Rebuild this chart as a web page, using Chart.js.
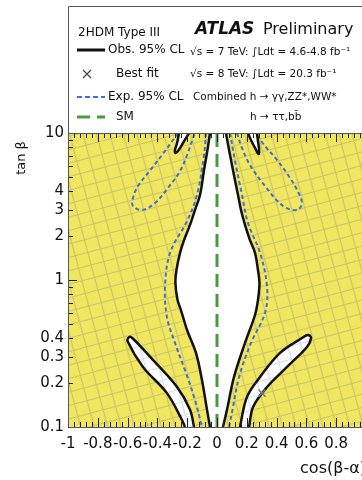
<!DOCTYPE html>
<html><head><meta charset="utf-8">
<script src="https://cdn.jsdelivr.net/npm/chart.js@4"></script>
<style>html,body{margin:0;padding:0;background:#fff;overflow:hidden;width:362px;height:480px}canvas{display:block}</style>
</head><body>
<canvas id="c" width="400" height="480"></canvas>
<script>
// ---- tick labels ----
const xTickLabels = [-1, -0.8, -0.6, -0.4, -0.2, 0, 0.2, 0.4, 0.6, 0.8, 1];
const yTickLabels = [0.1, 0.2, 0.3, 0.4, 1, 2, 3, 4, 10];

// ---- contours: [cos(beta-alpha), tan beta] ----
const obsCentralLeft = [[-0.047,10],[-0.064,7.66],[-0.087,5.6],[-0.114,3.79],[-0.148,2.99],[-0.181,2.37],[-0.221,1.87],[-0.248,1.53],[-0.272,1.17],[-0.279,0.955],[-0.265,0.731],[-0.242,0.625],[-0.201,0.457],[-0.141,0.319],[-0.101,0.209],[-0.067,0.131],[-0.047,0.1]];
const obsCentralRight = [[0.060,10],[0.081,7.66],[0.107,5.6],[0.141,3.79],[0.161,2.99],[0.188,2.37],[0.221,1.87],[0.255,1.53],[0.275,1.17],[0.285,0.955],[0.275,0.731],[0.255,0.578],[0.188,0.373],[0.114,0.219],[0.067,0.131],[0.040,0.1]];
const obsUpperLobeLeft = [[-0.255,10],[-0.268,8.55],[-0.282,7.66],[-0.279,7.31],[-0.262,7.54],[-0.228,8.55],[-0.188,10]];
const obsUpperLobeRight = [[0.208,10],[0.228,8.96],[0.255,7.91],[0.279,7.19],[0.282,7.79],[0.275,8.82],[0.268,10]];
const obsLowerLobeLeft = [[-0.215,0.1],[-0.235,0.1116],[-0.336,0.170],[-0.497,0.256],[-0.600,0.383],[-0.590,0.409],[-0.565,0.400],[-0.430,0.286],[-0.268,0.187],[-0.181,0.131],[-0.154,0.1]];
const obsLowerLobeRight = [[0.154,0.1],[0.201,0.160],[0.289,0.219],[0.423,0.319],[0.570,0.403],[0.611,0.423],[0.631,0.403],[0.604,0.350],[0.470,0.256],[0.336,0.187],[0.242,0.137],[0.215,0.1]];
const expCentralLeft = [[-0.074,10],[-0.087,7.08],[-0.134,3.79],[-0.201,2.52],[-0.315,1.53],[-0.349,0.896],[-0.336,0.560],[-0.289,0.391],[-0.208,0.233],[-0.148,0.153],[-0.101,0.1]];
const expCentralRight = [[0.087,10],[0.121,6.45],[0.168,3.79],[0.208,2.44],[0.289,1.53],[0.336,0.896],[0.322,0.597],[0.228,0.373],[0.148,0.219],[0.104,0.131],[0.081,0.1]];
const expWingLeft = [[-0.262,10],[-0.349,7.54],[-0.436,5.78],[-0.530,4.36],[-0.564,3.61],[-0.564,3.19],[-0.503,2.99],[-0.416,3.34],[-0.329,4.23],[-0.248,5.51],[-0.201,7.08],[-0.168,8.82],[-0.148,10]];
const expWingRight = [[0.134,10],[0.168,7.91],[0.221,6.06],[0.322,4.36],[0.443,3.19],[0.537,2.99],[0.570,3.34],[0.537,4.10],[0.477,5.18],[0.403,6.55],[0.322,8.16],[0.255,10]];
const smLine = [[0,0.1],[0,10]];
const bestFit = [[0.302,0.170]];

const legendLabels = ['Obs. 95% CL', 'Best fit', 'Exp. 95% CL', 'SM'];

const FONT = '"DejaVu Sans", sans-serif';
const BLACK = '#111', BLUE = '#3f6fd1', GREEN = '#4a9a3c';
const toXY = a => a.map(p => ({x: p[0], y: p[1]}));

function makeHatch(bg, line, size, angle) {
  const c = document.createElement('canvas');
  c.width = size; c.height = size;
  const g = c.getContext('2d');
  g.fillStyle = bg; g.fillRect(0, 0, size, size);
  g.strokeStyle = line; g.lineWidth = 1.2;
  g.beginPath();
  g.moveTo(0, size / 2); g.lineTo(size, size / 2);
  g.moveTo(size / 2, 0); g.lineTo(size / 2, size);
  g.stroke();
  const p = g.createPattern(c, 'repeat');
  p.setTransform(new DOMMatrix().rotate(angle));
  return p;
}
const hatchYellow = makeHatch('rgb(240,230,96)', 'rgba(120,120,125,0.3)', 13, -15);
const hatchWhite = makeHatch('#ffffff', 'rgba(150,165,215,0.4)', 13, -15);

const lineDs = (data, color, width, dash, order) => ({
  data: toXY(data), showLine: true, borderColor: color, borderWidth: width,
  borderDash: dash, pointRadius: 0, fill: false, tension: 0.35, order
});
const fillDs = (data, bg, order) => ({
  data: toXY(data), showLine: true, borderWidth: 0, borderColor: 'rgba(0,0,0,0)',
  backgroundColor: bg, pointRadius: 0, fill: 'shape', tension: 0.35, order
});

const datasets = [
  fillDs(obsCentralLeft.concat(obsCentralRight.slice().reverse()), '#ffffff', 10),
  fillDs(obsUpperLobeLeft, '#ffffff', 10),
  fillDs(obsUpperLobeRight, '#ffffff', 10),
  fillDs(obsLowerLobeLeft, hatchWhite, 10),
  fillDs(obsLowerLobeRight, hatchWhite, 10),
  lineDs(expCentralLeft, BLUE, 2, [4, 3], 6),
  lineDs(expCentralRight, BLUE, 2, [4, 3], 6),
  lineDs(expWingLeft, BLUE, 2, [4, 3], 6),
  lineDs(expWingRight, BLUE, 2, [4, 3], 6),
  lineDs(obsCentralLeft, BLACK, 2.5, [], 4),
  lineDs(obsCentralRight, BLACK, 2.5, [], 4),
  lineDs(obsUpperLobeLeft, BLACK, 2.5, [], 4),
  lineDs(obsUpperLobeRight, BLACK, 2.5, [], 4),
  lineDs(obsLowerLobeLeft, BLACK, 2.5, [], 4),
  lineDs(obsLowerLobeRight, BLACK, 2.5, [], 4),
  Object.assign(lineDs(smLine, GREEN, 3, [13, 7], 2), {tension: 0}),
  {data: toXY(bestFit), showLine: false, pointStyle: 'crossRot', pointRadius: 5,
   borderColor: '#777', borderWidth: 1.5, order: 1}
];

const decor = {
  id: 'decor',
  beforeDraw(chart) {
    const {ctx, chartArea: a} = chart;
    ctx.save();
    ctx.fillStyle = hatchYellow;
    ctx.fillRect(a.left, a.top, a.right - a.left, a.bottom - a.top);
    ctx.restore();
  },
  afterDatasetsDraw(chart) {
    const {ctx, chartArea: a, scales: {x: xs, y: ys}} = chart;
    ctx.save();
    ctx.strokeStyle = '#222'; ctx.lineWidth = 1;
    ctx.beginPath();
    for (let i = 0; i <= 50; i++) {
      const px = Math.round(xs.getPixelForValue(-1 + i * 0.04)) + 0.5;
      const L = i % 5 === 0 ? 9 : 5;
      ctx.moveTo(px, a.bottom); ctx.lineTo(px, a.bottom - L);
      ctx.moveTo(px, a.top); ctx.lineTo(px, a.top + L);
    }
    [0.1, 1].forEach(d => {
      for (let k = 1; k <= 9; k++) {
        const py = Math.round(ys.getPixelForValue(k * d)) + 0.5;
        ctx.moveTo(a.left, py); ctx.lineTo(a.left + (k === 1 ? 9 : 5), py);
      }
    });
    const pt = Math.round(ys.getPixelForValue(10)) + 0.5;
    ctx.moveTo(a.left, pt); ctx.lineTo(a.left + 9, pt);
    ctx.stroke();
    // frame
    ctx.strokeStyle = '#555';
    ctx.beginPath();
    ctx.moveTo(a.left + 0.5, a.bottom + 0.5); ctx.lineTo(a.right, a.bottom + 0.5);
    ctx.moveTo(a.left + 0.5, a.bottom); ctx.lineTo(a.left + 0.5, 6.5);
    ctx.lineTo(a.right + 10, 6.5);
    ctx.moveTo(a.left, a.top + 0.5); ctx.lineTo(a.right, a.top + 0.5);
    ctx.stroke();
    ctx.restore();
  },
  afterDraw(chart) {
    const ctx = chart.ctx;
    ctx.save();
    ctx.fillStyle = '#111'; ctx.textBaseline = 'middle'; ctx.textAlign = 'left';
    ctx.font = '12px ' + FONT;
    ctx.fillText('2HDM Type III', 78, 33);
    const sample = (y, color, w, dash) => {
      ctx.save(); ctx.strokeStyle = color; ctx.lineWidth = w; ctx.setLineDash(dash);
      ctx.beginPath(); ctx.moveTo(77, y); ctx.lineTo(105, y); ctx.stroke(); ctx.restore();
    };
    sample(50, BLACK, 3, []);
    ctx.fillText(legendLabels[0], 108, 50);
    ctx.save(); ctx.strokeStyle = '#444'; ctx.lineWidth = 1.2; ctx.beginPath();
    ctx.moveTo(83, 70); ctx.lineTo(91, 78); ctx.moveTo(91, 70); ctx.lineTo(83, 78); ctx.stroke(); ctx.restore();
    ctx.fillText(legendLabels[1], 116, 74);
    sample(97, BLUE, 2, [5, 3]);
    ctx.fillText(legendLabels[2], 108, 97);
    sample(117, GREEN, 3, [13, 7]);
    ctx.fillText(legendLabels[3], 116, 117);

    ctx.font = 'italic bold 17px ' + FONT;
    ctx.fillText('ATLAS', 195, 30);
    ctx.font = '16px ' + FONT;
    ctx.fillText('Preliminary', 263, 30);
    ctx.font = '10.5px ' + FONT;
    ctx.fillText('√s = 7 TeV: ∫Ldt = 4.6-4.8 fb⁻¹', 190, 52);
    ctx.fillText('√s = 8 TeV: ∫Ldt = 20.3 fb⁻¹', 190, 74);
    ctx.fillText('Combined h → γγ,ZZ*,WW*', 193, 97);
    ctx.fillText('h → ττ,bb̄', 250, 117);

    ctx.font = '13px ' + FONT;
    ctx.translate(22, 158); ctx.rotate(-Math.PI / 2);
    ctx.textAlign = 'center';
    ctx.fillText('tan β', 0, 0);
    ctx.restore();
  }
};

new Chart(document.getElementById('c'), {
  type: 'scatter',
  data: {datasets},
  options: {
    responsive: false, animation: false, devicePixelRatio: 1,
    layout: {padding: {top: 133, right: 34, left: 0, bottom: 0}},
    plugins: {legend: {display: false}, tooltip: {enabled: false}},
    scales: {
      x: {
        type: 'linear', min: -1, max: 1, position: 'bottom',
        grid: {display: false, drawTicks: false}, border: {display: false},
        afterBuildTicks: s => { s.ticks = xTickLabels.map(v => ({value: v})); },
        afterFit: s => { s.height = 53; },
        ticks: {autoSkip: false, maxRotation: 0, minRotation: 0, padding: 8, color: '#111',
                font: {family: FONT, size: 15}, callback: v => String(v)},
        title: {display: true, text: 'cos(β-α)', align: 'end', color: '#111',
                font: {family: FONT, size: 16}, padding: {top: 0, bottom: 2}}
      },
      y: {
        type: 'logarithmic', min: 0.1, max: 10,
        grid: {display: false, drawTicks: false}, border: {display: false},
        afterBuildTicks: s => { s.ticks = yTickLabels.map(v => ({value: v})); },
        afterFit: s => { s.width = 68; },
        ticks: {autoSkip: false, padding: 4, color: '#111',
                font: {family: FONT, size: 15}, callback: v => String(v)}
      }
    }
  },
  plugins: [decor]
});
</script>
</body></html>
